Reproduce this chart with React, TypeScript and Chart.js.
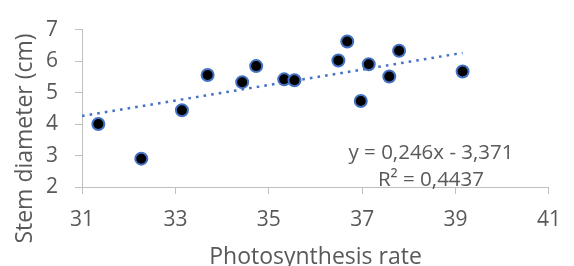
import React, { useEffect, useRef } from "react";
import { Chart, registerables } from "chart.js";

Chart.register(...registerables);

const photosynthesisRate = [31.35, 32.27, 33.14, 33.69, 34.43, 34.73, 35.33, 35.55, 36.49, 36.68, 36.97, 37.14, 37.58, 37.79, 39.15];
const stemDiameter = [4.0, 2.9, 4.44, 5.56, 5.33, 5.84, 5.42, 5.39, 6.02, 6.62, 4.73, 5.9, 5.51, 6.33, 5.67];
const trendSlope = 0.246;
const trendIntercept = -3.371;
const trendXRange = [31.0, 39.15];
const equationLines = ["y = 0,246x - 3,371", "R² = 0,4437"];
const xTitle = "Photosynthesis rate";
const yTitle = "Stem diameter (cm)";

const FONT = "'Open Sans', 'Noto Sans', sans-serif";
const TEXT = "#595959";
const AXIS = "#BFBFBF";
const BLUE = "#4472C4";

const textPlugin = {
  id: "annotText",
  afterDraw(chart: any) {
    const { ctx, chartArea } = chart;
    ctx.save();
    ctx.fillStyle = TEXT;
    ctx.font = `23px ${FONT}`;
    ctx.textAlign = "center";
    ctx.textBaseline = "alphabetic";
    ctx.fillText(xTitle, (chartArea.left + chartArea.right) / 2, 263.5);
    ctx.save();
    ctx.translate(31.5, 138.5);
    ctx.rotate(-Math.PI / 2);
    ctx.fillText(yTitle, 0, 0);
    ctx.restore();
    ctx.font = `20.5px ${FONT}`;
    ctx.fillText(equationLines[0], 431, 158.7);
    ctx.fillText(equationLines[1], 431, 186.3);
    ctx.restore();
  },
};

export default function App() {
  const ref = useRef<HTMLCanvasElement>(null);
  useEffect(() => {
    if (!ref.current) return;
    const points = photosynthesisRate.map((x, i) => ({ x, y: stemDiameter[i] }));
    const trend = trendXRange.map((x) => ({ x, y: trendSlope * x + trendIntercept }));
    const chart = new Chart(ref.current, {
      type: "scatter",
      data: {
        datasets: [
          {
            data: points,
            backgroundColor: "#000000",
            borderColor: BLUE,
            borderWidth: 2,
            pointRadius: 6,
            order: 0,
          },
          {
            type: "line",
            data: trend,
            borderColor: BLUE,
            borderWidth: 2.5,
            borderDash: [2.6, 5.1],
            pointRadius: 0,
            fill: false,
            showLine: true,
            order: 1,
          } as any,
        ],
      },
      options: {
        animation: false,
        responsive: false,
        devicePixelRatio: 1,
        layout: { padding: { left: 0, top: 25, right: 13, bottom: 0 } },
        plugins: { legend: { display: false }, tooltip: { enabled: false } },
        scales: {
          x: {
            type: "linear",
            min: 31,
            max: 41,
            ticks: { stepSize: 2, color: TEXT, font: { family: FONT, size: 21 }, padding: 13 },
            grid: { drawOnChartArea: false, drawTicks: true, tickLength: 7, color: AXIS, lineWidth: 1 },
            border: { display: true, color: AXIS, width: 1 },
            afterFit: (s: any) => {
              s.height = 79;
            },
          },
          y: {
            type: "linear",
            min: 2,
            max: 7,
            ticks: { stepSize: 1, color: TEXT, font: { family: FONT, size: 21 }, padding: 17 },
            grid: { drawOnChartArea: false, drawTicks: true, tickLength: 7, color: AXIS, lineWidth: 1 },
            border: { display: true, color: AXIS, width: 1 },
            afterFit: (s: any) => {
              s.width = 82;
            },
          },
        },
      },
      plugins: [textPlugin],
    });
    return () => chart.destroy();
  }, []);
  return (
    <div style={{ position: "absolute", left: 0, top: 0, width: 574, height: 266, background: "#fff" }}>
      <canvas ref={ref} width={574} height={266} style={{ width: 574, height: 266, display: "block" }} />
    </div>
  );
}
